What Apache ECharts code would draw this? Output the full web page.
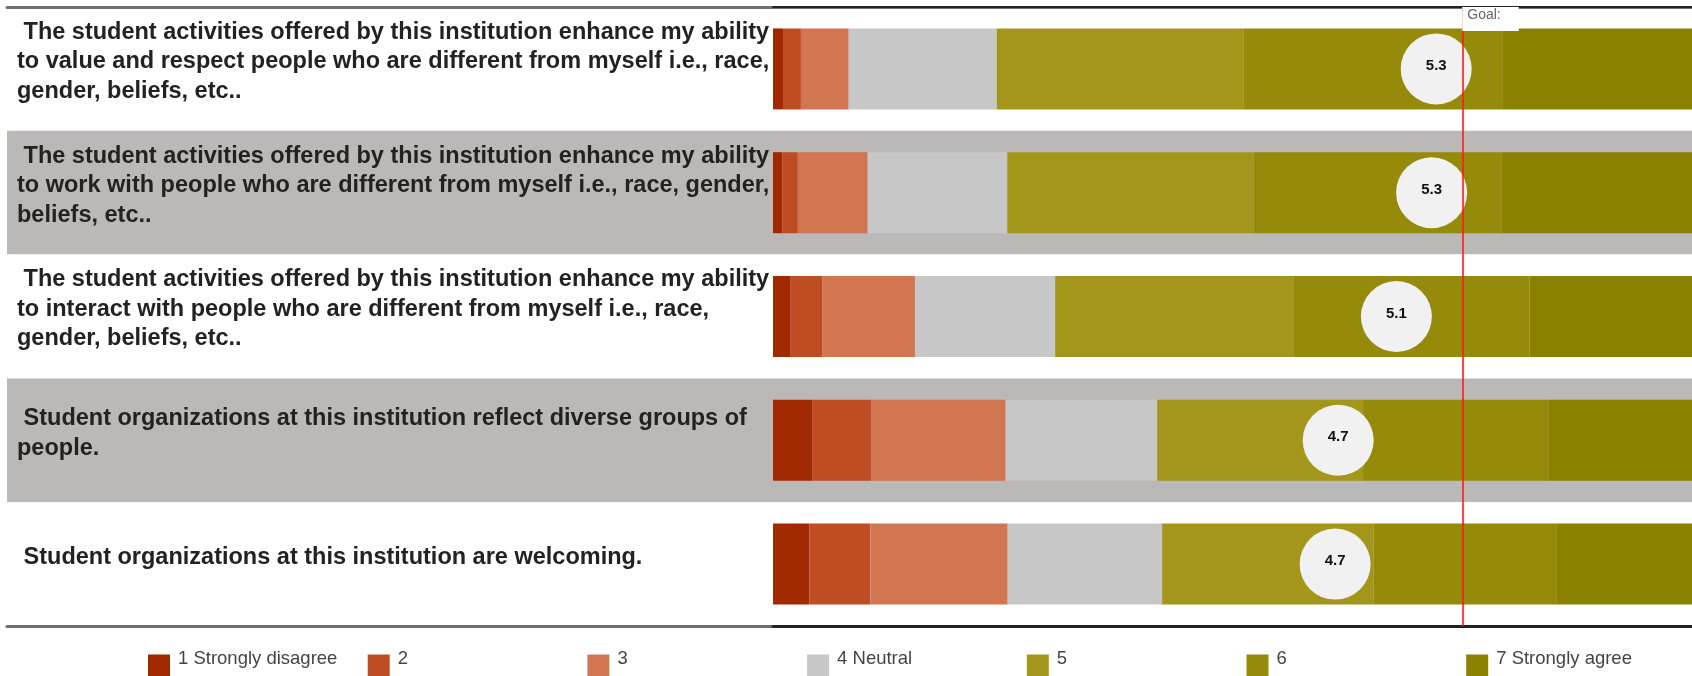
<!DOCTYPE html>
<html>
<head>
<meta charset="utf-8">
<script src="https://cdn.jsdelivr.net/npm/echarts@6/dist/echarts.min.js"></script>
<style>
html,body{margin:0;padding:0;background:#fff;}
#chart{width:1692px;height:676px;}
</style>
</head>
<body>
<div id="chart"></div>
<script>
// ---- data ----
const categories = [
  " The student activities offered by this institution enhance my ability to value and respect people who are different from myself i.e., race, gender, beliefs, etc..",
  " The student activities offered by this institution enhance my ability to work with people who are different from myself i.e., race, gender, beliefs, etc..",
  " The student activities offered by this institution enhance my ability to interact with people who are different from myself i.e., race, gender, beliefs, etc..",
  " Student organizations at this institution reflect diverse groups of people.",
  " Student organizations at this institution are welcoming."
];
const levelNames = ["1 Strongly disagree", "2", "3", "4 Neutral", "5", "6", "7 Strongly agree"];
// percent of responses per level, one value per category (top to bottom)
const level1 = [1.09, 1.02, 1.93, 4.30, 3.98];
const level2 = [1.95, 1.68, 3.47, 6.36, 6.63];
const level3 = [5.20, 7.60, 10.05, 14.65, 14.93];
const level4 = [16.10, 15.20, 15.25, 16.50, 16.80];
const level5 = [26.90, 26.80, 25.90, 22.40, 23.04];
const level6 = [28.10, 27.00, 25.70, 20.20, 19.92];
const level7 = [20.66, 20.70, 17.70, 15.59, 14.70];
const means = [5.33, 5.30, 5.07, 4.69, 4.67];
const goal = 5.5;

const levels = [level1, level2, level3, level4, level5, level6, level7];
const colors = ["#a12800", "#bf4d23", "#d17651", "#c7c7c7", "#a3961b", "#958a0a", "#8a8100"];
const FONT = "'Liberation Sans', Arial, Helvetica, sans-serif";
const LABEL_SIZE = 23.5;

// greedy word wrap using canvas text measurement
const measureCtx = document.createElement('canvas').getContext('2d');
function wrapLabel(text, maxWidth) {
  measureCtx.font = 'bold ' + LABEL_SIZE + 'px ' + FONT;
  const lead = text.match(/^\s*/)[0];
  const words = text.trim().split(/\s+/);
  const lines = [];
  let cur = lead;
  let curHasWord = false;
  for (const w of words) {
    const trial = curHasWord ? cur + ' ' + w : cur + w;
    if (curHasWord && measureCtx.measureText(trial).width > maxWidth) {
      lines.push(cur);
      cur = w;
    } else {
      cur = trial;
    }
    curHasWord = true;
  }
  lines.push(cur);
  return lines.join('\n');
}

const chart = echarts.init(document.getElementById('chart'), null, {renderer: 'canvas'});

const barSeries = levels.map((vals, i) => ({
  name: levelNames[i],
  type: 'bar',
  stack: 'total',
  xAxisIndex: 2,
  yAxisIndex: 1,
  barWidth: 81,
  itemStyle: {color: colors[i]},
  data: vals
}));

const legends = levelNames.map((n, i) => ({
  data: [n],
  left: 148 + i * 219.7,
  top: 649,
  padding: 0,
  icon: 'rect', itemWidth: 22, itemHeight: 22, itemGap: 0,
  selectedMode: false,
  formatter: name => '{t|' + name + '}',
  textStyle: {
    fontFamily: FONT, fontSize: 18.5, color: '#444444',
    rich: {t: {fontFamily: FONT, fontSize: 18.5, color: '#444444', padding: [0, 0, 14, 3]}}
  }
}));

const hiddenAxis = {axisLine: {show: false}, axisTick: {show: false}, axisLabel: {show: false}, splitLine: {show: false}};

const option = {
  animation: false,
  backgroundColor: '#ffffff',
  textStyle: {fontFamily: FONT},
  grid: [
    {left: 7, right: 0, top: 7, bottom: 50, containLabel: false},
    {left: 773, right: 0, top: 7, bottom: 50, containLabel: false},
    {left: 7, right: 0, top: 0, bottom: 57, containLabel: false}
  ],
  xAxis: [
    {gridIndex: 0, type: 'value', min: 0, max: 1, position: 'bottom',
     axisLine: {show: true, lineStyle: {color: '#6e6e6e', width: 3}},
     axisTick: {show: false}, axisLabel: {show: false}, splitLine: {show: false}},
    {gridIndex: 0, type: 'value', min: 0, max: 1, position: 'top',
     axisLine: {show: true, lineStyle: {color: '#6e6e6e', width: 3}},
     axisTick: {show: false}, axisLabel: {show: false}, splitLine: {show: false}},
    {gridIndex: 1, type: 'value', min: 0, max: 100, position: 'bottom',
     axisLine: {show: true, lineStyle: {color: '#222222', width: 3}},
     axisTick: {show: false}, axisLabel: {show: false}, splitLine: {show: false}},
    {gridIndex: 1, type: 'value', min: 1, max: 7, position: 'top',
     axisLine: {show: true, lineStyle: {color: '#222222', width: 2}},
     axisTick: {show: false}, axisLabel: {show: false}, splitLine: {show: false}},
    Object.assign({gridIndex: 2, type: 'value', min: 0, max: 1}, hiddenAxis)
  ],
  yAxis: [
    {gridIndex: 0, type: 'category', inverse: true, data: categories,
     axisLine: {show: false}, axisTick: {show: false}, splitLine: {show: false},
     axisLabel: {show: false},
     splitArea: {show: true, areaStyle: {color: ['#ffffff', '#bab9b7']}}},
    {gridIndex: 1, type: 'category', inverse: true, data: categories,
     show: false},
    {gridIndex: 2, type: 'category', inverse: true, data: categories,
     axisLine: {show: false}, axisTick: {show: false}, splitLine: {show: false},
     splitArea: {show: false},
     axisLabel: {
       show: true, interval: 0, hideOverlap: false,
       inside: true, margin: 10, align: 'left', verticalAlign: 'middle',
       formatter: v => wrapLabel(v, 758),
       fontFamily: FONT, fontSize: LABEL_SIZE, fontWeight: 'bold', color: '#222222',
       lineHeight: 29.5
     }}
  ],
  legend: legends,
  series: barSeries.concat([
    {
      name: 'Mean',
      type: 'scatter',
      xAxisIndex: 3,
      yAxisIndex: 1,
      symbol: 'circle',
      symbolSize: 71,
      itemStyle: {color: '#f1f1f1', opacity: 1},
      label: {
        show: true, position: 'inside', offset: [0, -3],
        formatter: p => p.value[0].toFixed(1),
        fontFamily: FONT, fontSize: 15, fontWeight: 'bold', color: '#111111'
      },
      data: means.map((m, i) => [m, i]),
      markLine: {
        silent: true,
        symbol: ['none', 'none'],
        lineStyle: {color: '#ff1a1a', width: 1.6, type: 'solid'},
        label: {
          show: true, position: 'start', distance: 0,
          formatter: 'Goal:',
          align: 'left', verticalAlign: 'top',
          fontFamily: FONT, fontSize: 14, color: '#666666',
          backgroundColor: '#ffffff', padding: [1, 18, 9, 5]
        },
        data: [{xAxis: goal}]
      }
    }
  ])
};
chart.setOption(option);
</script>
</body>
</html>
